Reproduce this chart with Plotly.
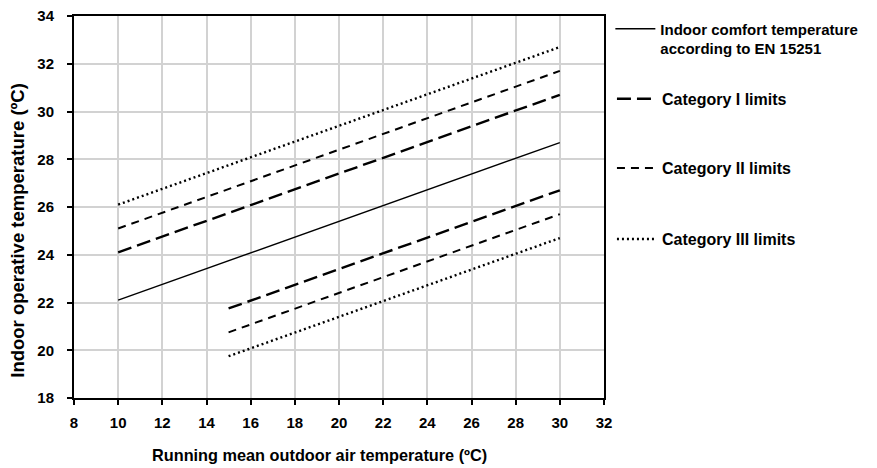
import plotly.graph_objects as go

# Running mean outdoor temperature (x) and indoor operative temperature (y)
comfort_x = [10, 30]
comfort_y = [22.1, 28.7]

cat1_upper_x = [10, 30]
cat1_upper_y = [24.1, 30.7]
cat1_lower_x = [15, 30]
cat1_lower_y = [21.75, 26.7]

cat2_upper_x = [10, 30]
cat2_upper_y = [25.1, 31.7]
cat2_lower_x = [15, 30]
cat2_lower_y = [20.75, 25.7]

cat3_upper_x = [10, 30]
cat3_upper_y = [26.1, 32.7]
cat3_lower_x = [15, 30]
cat3_lower_y = [19.75, 24.7]

x_ticks = list(range(8, 33, 2))
y_ticks = list(range(18, 35, 2))

names = ["Indoor comfort temperature<br>according to EN 15251",
         "Category I limits", "Category II limits", "Category III limits"]
x_title = "Running mean outdoor air temperature (ºC)"
y_title = "Indoor operative temperature (ºC)"

FONT = "Liberation Sans, Arial, sans-serif"

fig = go.Figure()

fig.add_trace(go.Scatter(x=comfort_x, y=comfort_y, mode="lines",
                         line=dict(color="black", width=1.4),
                         name=names[0], legend="legend5", showlegend=True))

styles = [
    (cat1_upper_x, cat1_upper_y, cat1_lower_x, cat1_lower_y, "14px,6px", 2.4, names[1], "legend2"),
    (cat2_upper_x, cat2_upper_y, cat2_lower_x, cat2_lower_y, "8px,6px", 2.0, names[2], "legend3"),
    (cat3_upper_x, cat3_upper_y, cat3_lower_x, cat3_lower_y, "2px,3px", 2.4, names[3], "legend4"),
]
for ux, uy, lx, ly, dash, w, nm, lg in styles:
    fig.add_trace(go.Scatter(x=ux, y=uy, mode="lines",
                             line=dict(color="black", width=w, dash=dash),
                             name=nm, legend=lg, showlegend=True))
    fig.add_trace(go.Scatter(x=lx, y=ly, mode="lines",
                             line=dict(color="black", width=w, dash=dash),
                             name=nm, legend=lg, showlegend=False))

tick_font = dict(family=FONT, size=15, color="black", weight="bold")

axis_common = dict(
    showgrid=True, gridcolor="#d2d2d2", gridwidth=1.5,
    showline=True, linecolor="black", linewidth=2, mirror=True,
    ticks="outside", ticklen=5, tickwidth=1.5, tickcolor="black",
    zeroline=False, automargin=False, ticklabeloverflow="allow",
    tickfont=tick_font,
)

fig.update_xaxes(range=[8, 32], tickvals=x_ticks,
                 ticktext=[f"<b>{v}</b>" for v in x_ticks], **axis_common,
                 ticklabelstandoff=5)
fig.update_yaxes(range=[18, 34], tickvals=y_ticks,
                 ticktext=[f"<b>{v}</b>" for v in y_ticks], **axis_common,
                 ticklabelstandoff=10)

fig.add_annotation(text=f"<b>{x_title}</b>", xref="paper", yref="paper",
                   x=0.464, y=-0.149, xanchor="center", yanchor="middle",
                   showarrow=False,
                   font=dict(family=FONT, size=16.3, color="black", weight="bold"))
fig.add_annotation(text=f"<b>{y_title}</b>", xref="paper", yref="paper",
                   x=-0.106, y=0.44, xanchor="center", yanchor="middle",
                   textangle=-90, showarrow=False,
                   font=dict(family=FONT, size=18.5, color="black", weight="bold"))

legend_common = dict(xanchor="left", yanchor="middle", valign="top",
                     itemwidth=40, bgcolor="rgba(0,0,0,0)")
f16 = dict(family=FONT, size=16, color="black", weight="bold")
f15 = dict(family=FONT, size=15, color="black", weight="bold")

fig.update_layout(
    width=869, height=460,
    margin=dict(l=66, r=273, t=8, b=70, autoexpand=False),
    plot_bgcolor="white", paper_bgcolor="white",
    font=dict(family=FONT, color="black"),
    showlegend=True,
    legend5=dict(x=1.012, y=0.941, font=f15, **legend_common),
    legend2=dict(x=1.015, y=0.783, font=f16, **legend_common),
    legend3=dict(x=1.015, y=0.602, font=f16, **legend_common),
    legend4=dict(x=1.015, y=0.416, font=f16, **legend_common),
)

fig.write_html("out.html")
